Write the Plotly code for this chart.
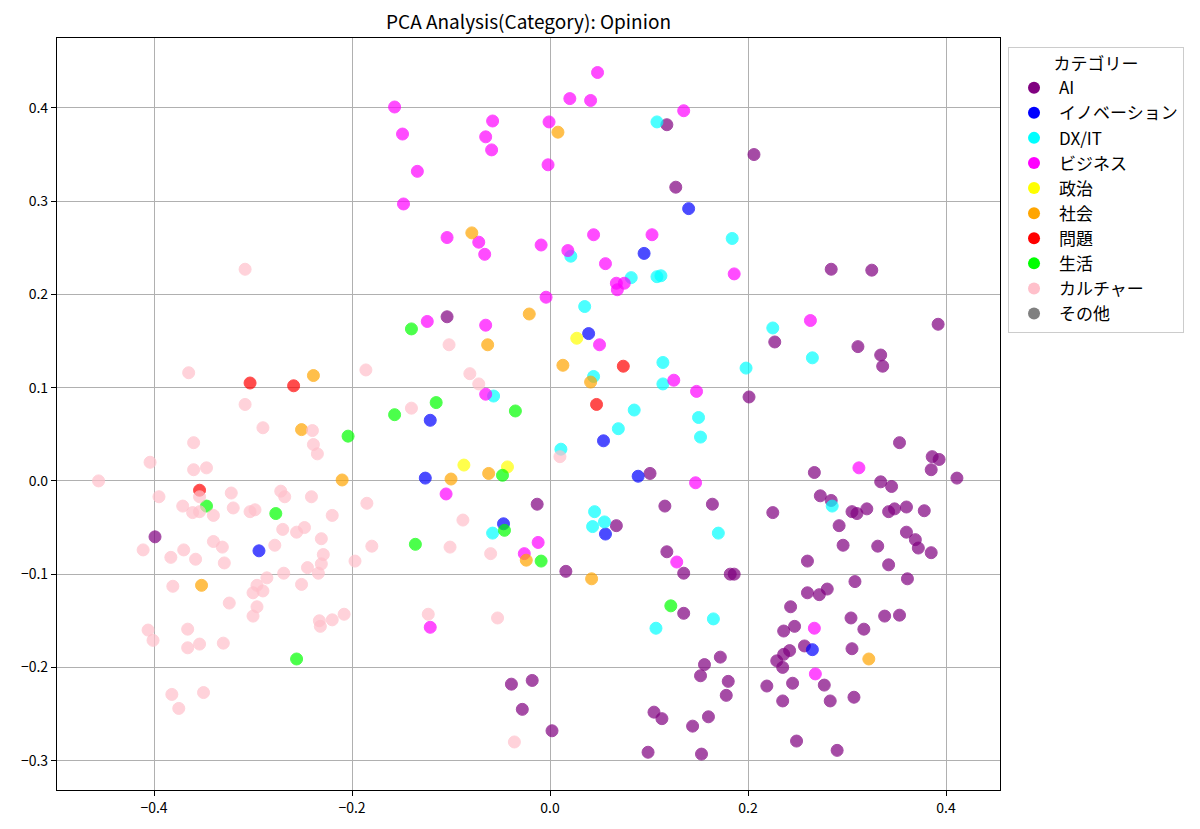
import plotly.graph_objects as go

# PCA scores per category (x = PC1, y = PC2)
ai_x = [-0.399, -0.104, 0.118, 0.127, 0.206, 0.201, 0.227, 0.284, 0.325, 0.392, 0.311, 0.334,
        0.336, 0.101, -0.013, 0.116, 0.067, 0.016, 0.118, 0.135, 0.135, -0.039, -0.018, -0.028,
        0.002, 0.105, 0.113, 0.099, 0.144, 0.152, 0.353, 0.386, 0.393, 0.385, 0.267, 0.411,
        0.334, 0.345, 0.164, 0.273, 0.284, 0.225, 0.305, 0.310, 0.320, 0.342, 0.348, 0.360,
        0.378, 0.292, 0.360, 0.369, 0.372, 0.385, 0.296, 0.331, 0.260, 0.342, 0.182, 0.186,
        0.308, 0.361, 0.260, 0.272, 0.280, 0.243, 0.304, 0.338, 0.353, 0.247, 0.236, 0.317,
        0.257, 0.242, 0.236, 0.229, 0.235, 0.305, 0.172, 0.156, 0.180, 0.178, 0.219, 0.245,
        0.277, 0.235, 0.283, 0.307, 0.160, 0.249, 0.290, 0.153]
ai_y = [-0.060, 0.176, 0.382, 0.315, 0.350, 0.090, 0.149, 0.227, 0.226, 0.168, 0.144, 0.135,
        0.123, 0.008, -0.025, -0.027, -0.048, -0.097, -0.076, -0.099, -0.142, -0.218, -0.214, -0.245,
        -0.268, -0.248, -0.255, -0.291, -0.263, -0.209, 0.041, 0.026, 0.023, 0.012, 0.009, 0.003,
        -0.001, -0.006, -0.025, -0.016, -0.021, -0.034, -0.033, -0.035, -0.030, -0.033, -0.030, -0.028,
        -0.032, -0.048, -0.055, -0.063, -0.072, -0.077, -0.069, -0.070, -0.086, -0.090, -0.100, -0.100,
        -0.108, -0.105, -0.120, -0.122, -0.116, -0.135, -0.147, -0.145, -0.144, -0.156, -0.161, -0.159,
        -0.177, -0.182, -0.186, -0.193, -0.200, -0.180, -0.189, -0.197, -0.215, -0.230, -0.220, -0.217,
        -0.219, -0.236, -0.236, -0.232, -0.253, -0.279, -0.289, -0.293]

innov_x = [-0.294, 0.140, 0.095, 0.039, -0.121, 0.054, -0.126, 0.089, -0.047, 0.056, 0.265]
innov_y = [-0.075, 0.292, 0.244, 0.158, 0.065, 0.043, 0.003, 0.005, -0.046, -0.057, -0.181]

dx_x = [0.108, 0.021, 0.082, 0.108, 0.112, 0.184, 0.035, 0.114, 0.044, 0.114, -0.057, 0.085,
        0.069, 0.011, 0.045, 0.055, 0.043, -0.058, 0.107, 0.225, 0.265, 0.198, 0.150, 0.152,
        0.285, 0.170, 0.165]
dx_y = [0.385, 0.241, 0.218, 0.219, 0.220, 0.260, 0.187, 0.127, 0.112, 0.104, 0.091, 0.076,
        0.056, 0.034, -0.033, -0.044, -0.049, -0.056, -0.158, 0.164, 0.132, 0.121, 0.068, 0.047,
        -0.027, -0.056, -0.148]

biz_x = [0.048, 0.020, 0.041, -0.157, 0.135, -0.058, -0.001, -0.149, -0.065, -0.059, -0.002, -0.134,
         -0.148, -0.104, -0.072, -0.066, -0.009, 0.044, 0.103, 0.018, 0.056, 0.067, 0.075, 0.068,
         -0.004, 0.186, -0.124, -0.065, 0.050, 0.125, -0.065, 0.148, -0.105, 0.147, -0.012, -0.026,
         0.128, -0.121, 0.263, 0.312, 0.267, 0.268]
biz_y = [0.438, 0.410, 0.408, 0.401, 0.397, 0.386, 0.385, 0.372, 0.369, 0.355, 0.339, 0.332,
         0.297, 0.261, 0.256, 0.243, 0.253, 0.264, 0.264, 0.247, 0.233, 0.212, 0.212, 0.205,
         0.197, 0.222, 0.171, 0.167, 0.146, 0.108, 0.093, 0.096, -0.014, -0.002, -0.066, -0.078,
         -0.087, -0.157, 0.172, 0.014, -0.158, -0.207]

pol_x = [0.027, -0.087, -0.043]
pol_y = [0.153, 0.017, 0.015]

soc_x = [0.008, -0.079, -0.021, -0.063, 0.013, 0.041, -0.239, -0.251, -0.210, -0.062, -0.100,
         -0.352, -0.024, 0.042, 0.322]
soc_y = [0.374, 0.266, 0.179, 0.146, 0.124, 0.106, 0.113, 0.055, 0.001, 0.008, 0.002,
         -0.112, -0.085, -0.105, -0.191]

prob_x = [-0.303, -0.259, -0.354, 0.074, 0.047]
prob_y = [0.105, 0.102, -0.010, 0.123, 0.082]

life_x = [-0.204, -0.347, -0.277, -0.256, -0.140, -0.115, -0.157, -0.035, -0.048, -0.046, -0.136,
          -0.009, 0.122]
life_y = [0.048, -0.027, -0.035, -0.191, 0.163, 0.084, 0.071, 0.075, 0.006, -0.053, -0.068,
          -0.086, -0.134]

cul_x = [-0.456, -0.308, -0.365, -0.186, -0.308, -0.290, -0.240, -0.360, -0.239, -0.235, -0.404,
         -0.360, -0.347, -0.395, -0.354, -0.322, -0.272, -0.268, -0.241, -0.185, -0.371, -0.361,
         -0.354, -0.340, -0.320, -0.303, -0.298, -0.220, -0.270, -0.256, -0.248, -0.231, -0.411,
         -0.370, -0.383, -0.358, -0.340, -0.331, -0.329, -0.278, -0.229, -0.231, -0.245, -0.234,
         -0.269, -0.180, -0.197, -0.286, -0.296, -0.300, -0.290, -0.251, -0.381, -0.324, -0.296,
         -0.300, -0.208, -0.220, -0.233, -0.232, -0.406, -0.401, -0.366, -0.366, -0.354, -0.330,
         -0.382, -0.350, -0.375, -0.102, -0.081, -0.072, -0.140, 0.010, -0.088, -0.101, -0.060,
         -0.123, -0.053, -0.036]
cul_y = [0.000, 0.227, 0.116, 0.119, 0.082, 0.057, 0.054, 0.041, 0.039, 0.029, 0.020,
         0.012, 0.014, -0.017, -0.017, -0.013, -0.011, -0.017, -0.017, -0.024, -0.027, -0.034,
         -0.033, -0.037, -0.029, -0.033, -0.031, -0.037, -0.052, -0.055, -0.050, -0.062, -0.074,
         -0.074, -0.082, -0.084, -0.065, -0.071, -0.088, -0.069, -0.079, -0.089, -0.093, -0.099,
         -0.099, -0.070, -0.086, -0.104, -0.112, -0.120, -0.118, -0.111, -0.113, -0.131, -0.135,
         -0.145, -0.143, -0.149, -0.150, -0.156, -0.160, -0.171, -0.159, -0.179, -0.175, -0.174,
         -0.229, -0.227, -0.244, 0.146, 0.115, 0.104, 0.078, 0.026, -0.042, -0.071, -0.078,
         -0.143, -0.147, -0.280]

other_x = []
other_y = []

categories = ["AI", "イノベーション", "DX/IT", "ビジネス", "政治", "社会", "問題", "生活", "カルチャー", "その他"]
colors = ["purple", "blue", "cyan", "magenta", "yellow", "orange", "red", "lime", "pink", "gray"]
xs = [ai_x, innov_x, dx_x, biz_x, pol_x, soc_x, prob_x, life_x, cul_x, other_x]
ys = [ai_y, innov_y, dx_y, biz_y, pol_y, soc_y, prob_y, life_y, cul_y, other_y]

FONT = "Noto Sans CJK JP"

fig = go.Figure()
for name, color, x, y in zip(categories, colors, xs, ys):
    # points (semi-transparent), kept out of the legend
    fig.add_trace(go.Scatter(
        x=x, y=y, mode="markers", name=name, showlegend=False,
        marker=dict(size=12, color=color, opacity=0.7, line=dict(color=color, width=1)),
    ))
    # solid legend swatch
    fig.add_trace(go.Scatter(
        x=[None], y=[None], mode="markers", name=name,
        marker=dict(size=14, color=color),
    ))

axis_style = dict(
    showgrid=True, gridcolor="#b0b0b0", gridwidth=1,
    showline=True, linecolor="black", linewidth=1.2, mirror=True,
    ticks="outside", ticklen=5, tickcolor="black",
    zeroline=False, tickfont=dict(size=14, color="black"),
)

# the page adds an 8px body margin, so the figure is 8px smaller and offset
W, H = 1192, 821
fig.update_layout(
    width=W, height=H,
    margin=dict(l=49, r=200, t=30, b=31),
    paper_bgcolor="white", plot_bgcolor="white",
    font=dict(family=FONT, color="black"),
    title=dict(text="PCA Analysis(Category): Opinion", x=(49 + 943 / 2) / W, xanchor="center",
               y=1 - 14 / H, yanchor="middle", font=dict(size=19, color="black")),
    xaxis=dict(range=[-0.498, 0.4545], tickvals=[-0.4, -0.2, 0, 0.2, 0.4],
               ticktext=["−0.4", "−0.2", "0.0", "0.2", "0.4"], **axis_style),
    yaxis=dict(range=[-0.3315, 0.475], tickvals=[-0.3, -0.2, -0.1, 0, 0.1, 0.2, 0.3, 0.4],
               ticktext=["−0.3", "−0.2", "−0.1", "0.0", "0.1", "0.2", "0.3", "0.4"], **axis_style),
    legend=dict(
        x=1.0085, xanchor="left", y=0.988, yanchor="top",
        bgcolor="white", bordercolor="#cccccc", borderwidth=1,
        font=dict(size=17, color="black"),
        title=dict(text="カテゴリー", side="top center", font=dict(size=17)),
        tracegroupgap=0, itemsizing="constant", itemwidth=40,
    ),
)

fig.write_html("out.html")
